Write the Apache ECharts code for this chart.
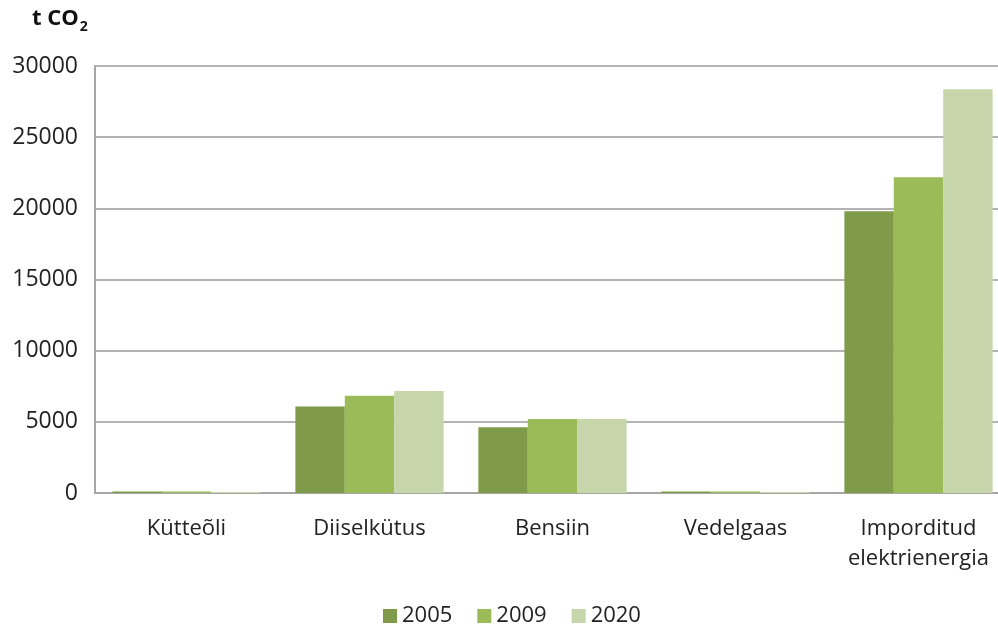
<!DOCTYPE html>
<html>
<head>
<meta charset="utf-8">
<script src="https://cdn.jsdelivr.net/npm/echarts@6/dist/echarts.min.js"></script>
<style>
  html, body { margin: 0; padding: 0; background: #fff; }
  #chart { width: 998px; height: 626px; }
</style>
</head>
<body>
<div id="chart"></div>
<script>
// andmed
var categories = ['Kütteõli', 'Diiselkütus', 'Bensiin', 'Vedelgaas', 'Imporditud\nelektrienergia'];
var years = ['2005', '2009', '2020'];
var values2005 = [110, 6070, 4620, 110, 19800];
var values2009 = [100, 6840, 5200, 100, 22180];
var values2020 = [70, 7170, 5200, 70, 28370];
var colors = ['#7f9a48', '#9bbb59', '#c6d6aa'];

var myChart = echarts.init(document.getElementById('chart'));
var font = '"Open Sans", "Liberation Sans", sans-serif';

var seriesData = [values2005, values2009, values2020];
var series = [];
for (var i = 0; i < years.length; i++) {
    series.push({
        name: years[i],
        type: 'bar',
        data: seriesData[i],
        barGap: '0%',
        barCategoryGap: '19%',
        itemStyle: { color: colors[i] }
    });
}

var option = {
    animation: false,
    textStyle: { fontFamily: font },
    graphic: [{
        type: 'text',
        left: 32,
        top: 8,
        style: {
            text: '{b|t CO}{s|2}',
            rich: {
                b: { fontFamily: font, fontSize: 22, fontWeight: 'bold', fill: '#111', color: '#111' },
                s: { fontFamily: font, fontSize: 14, fontWeight: 'bold', fill: '#111', color: '#111', padding: [16, 0, 0, 1] }
            }
        }
    }],
    legend: {
        top: 600,
        left: 378,
        itemWidth: 14,
        itemHeight: 14,
        itemGap: 25,
        icon: 'rect',
        textStyle: { fontSize: 22, color: '#222', fontFamily: font }
    },
    grid: {
        left: 95,
        right: -12,
        top: 66,
        bottom: 133,
        containLabel: false,
        outerBoundsMode: 'none'
    },
    xAxis: {
        type: 'category',
        data: categories,
        axisLine: { lineStyle: { color: '#a6a6a6', width: 2 } },
        axisTick: { show: false },
        axisLabel: { interval: 0, fontSize: 22, color: '#222', margin: 21, lineHeight: 30, fontFamily: font }
    },
    yAxis: {
        type: 'value',
        min: 0,
        max: 30000,
        interval: 5000,
        axisLine: { show: true, lineStyle: { color: '#a6a6a6', width: 2 } },
        axisTick: { show: false },
        axisLabel: {
            fontSize: 23, color: '#222', margin: 17, fontFamily: font,
            formatter: function (v) { return String(v); }
        },
        splitLine: { lineStyle: { color: '#b3b3b3', width: 2 } }
    },
    series: series
};

myChart.setOption(option);
</script>
</body>
</html>
